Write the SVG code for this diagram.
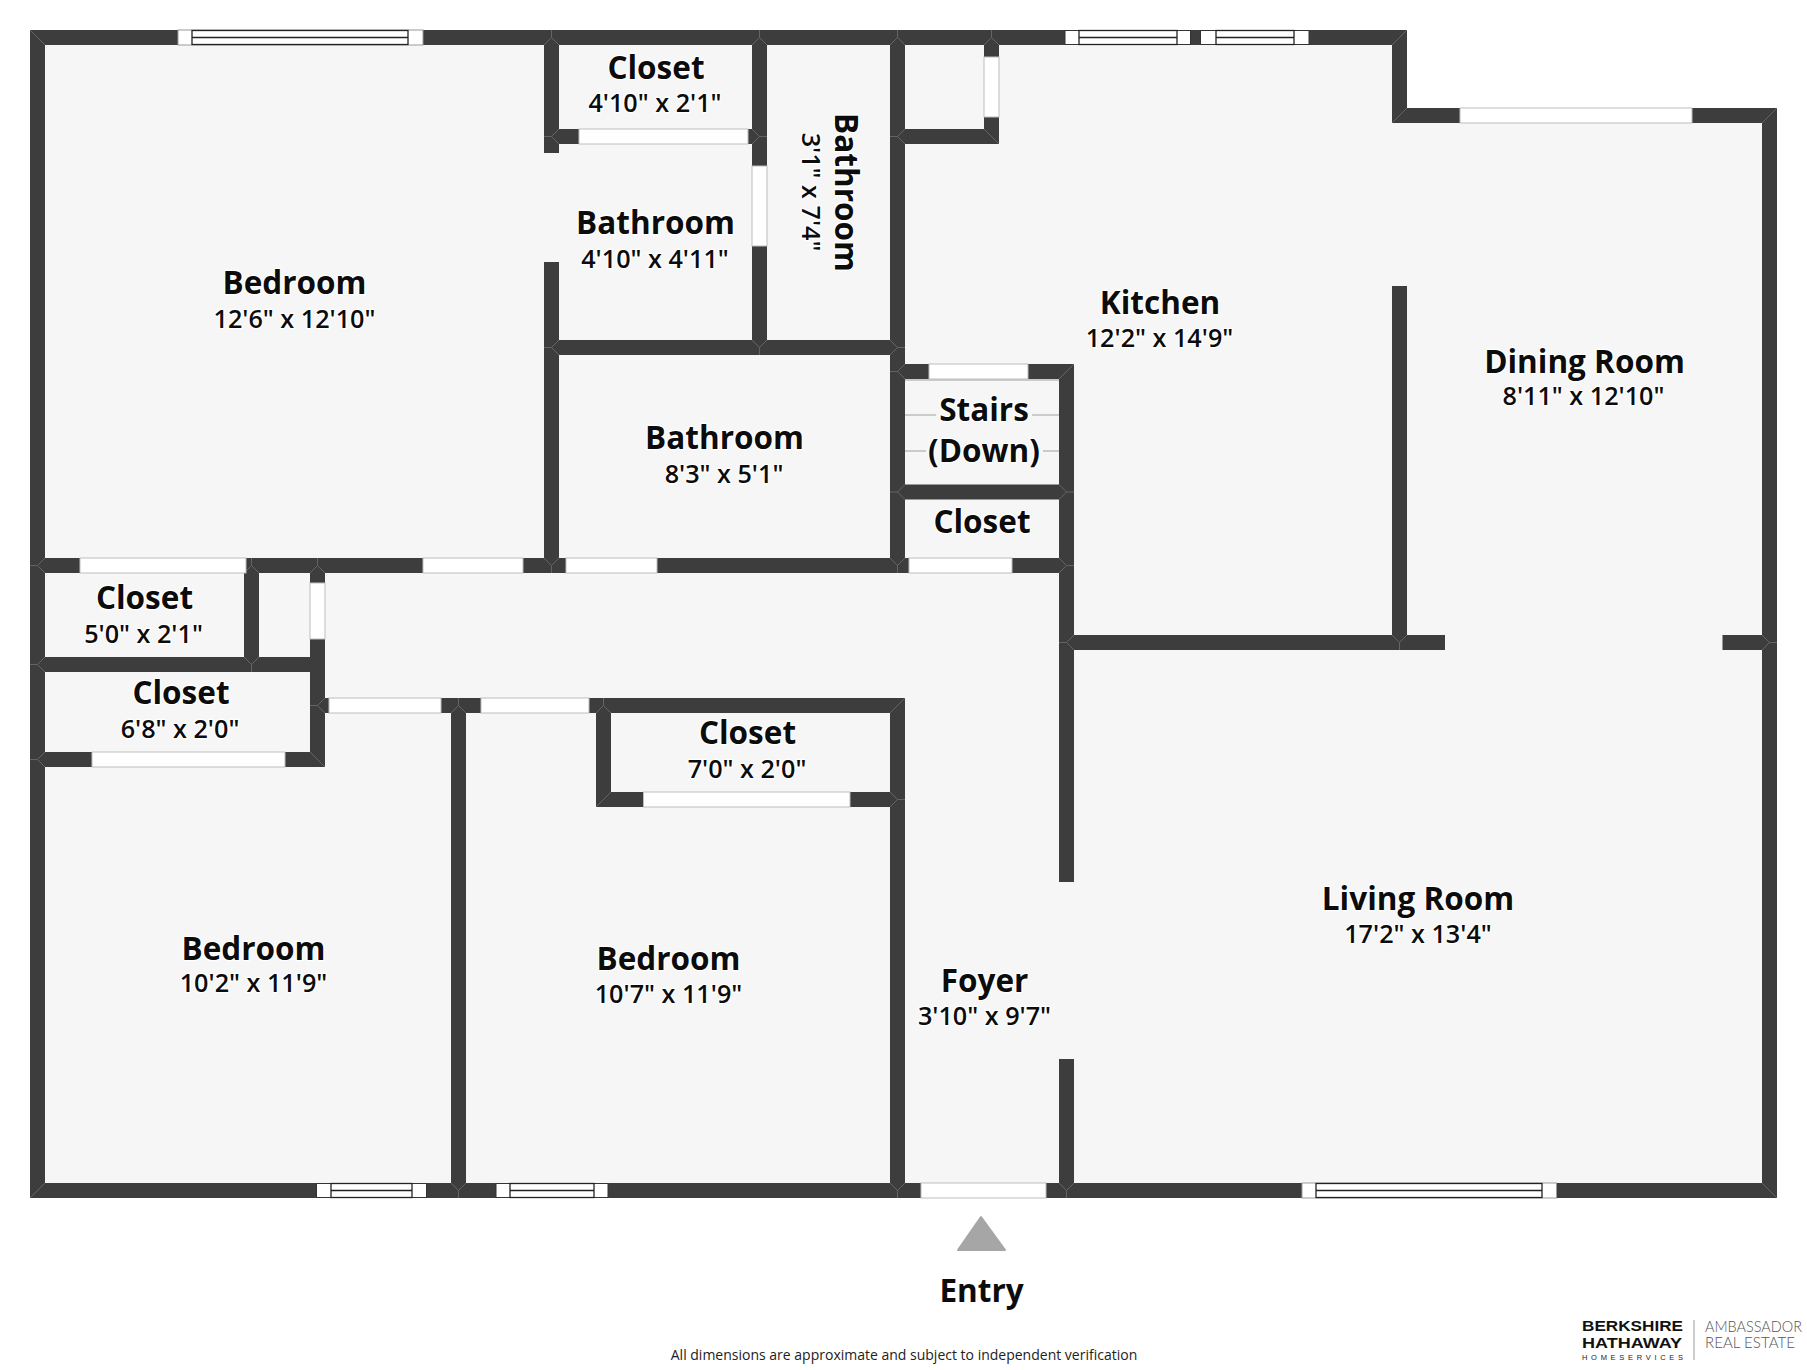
<svg xmlns="http://www.w3.org/2000/svg" width="1807" height="1370" viewBox="0 0 1807 1370">
<style>
.w{fill:#3d3d3d}
.d{fill:#fff;stroke:#bdbdbd;stroke-width:1}
.we{fill:#fff;stroke:#9a9a9a;stroke-width:1}
.wk{fill:#fff;stroke:#333;stroke-width:1}
.wi{fill:#fff;stroke:#222;stroke-width:1.3}
.m{fill:none;stroke:#6e6e6e;stroke-width:.8}
.s{stroke:#bdbdbd;stroke-width:1.4;fill:none}
text{font-family:"Open Sans","Noto Sans","Liberation Sans",sans-serif;fill:#0c0c0c;text-anchor:middle;paint-order:stroke;stroke:#fff;stroke-width:2.5;stroke-linejoin:round}
.n{font-size:31.5px;font-weight:700}
.a{font-size:25.2px;font-weight:600}
.f{font-size:14px;font-weight:400;fill:#222;stroke:none}
.b{font-family:"Liberation Sans",Arial,sans-serif;font-weight:700;font-size:15.5px;text-anchor:start;stroke:none;fill:#111}
.h{font-family:"Liberation Sans",Arial,sans-serif;font-weight:400;font-size:7.5px;text-anchor:start;stroke:none;fill:#222}
.l{font-family:"Lato","Liberation Sans",sans-serif;font-weight:300;font-size:15px;text-anchor:start;stroke:none;fill:#555}
</style>
<defs>
<path id="t" class="m" d="M-7.5-7.5L0 0L7.5-7.5M0 0V7.5"/>
</defs>
<rect width="1807" height="1370" fill="#fff"/>
<g id="floor">
<path fill="#f6f6f6" d="M30 30H1407V108H1777V1198H30Z"/>
</g>
<g id="walls" class="w">
<rect x="30" y="30" width="1377" height="15"/>
<rect x="1392" y="108" width="385" height="15"/>
<rect x="544" y="129" width="223" height="15"/>
<rect x="905" y="129" width="94" height="15"/>
<rect x="544" y="340" width="361" height="15"/>
<rect x="890" y="364" width="184" height="15"/>
<rect x="890" y="484.500" width="184" height="15"/>
<rect x="30" y="558" width="1044" height="15"/>
<rect x="1059" y="635" width="386" height="15"/>
<rect x="1722.500" y="635" width="54.500" height="15"/>
<rect x="30" y="657" width="295" height="15"/>
<rect x="30" y="752" width="295" height="15"/>
<rect x="310" y="698" width="595" height="15"/>
<rect x="596" y="792" width="309" height="15"/>
<rect x="30" y="1183" width="1747" height="15"/>
<rect x="30" y="30" width="15" height="1168"/>
<rect x="1762" y="108" width="15" height="1090"/>
<rect x="544" y="30" width="15" height="123"/>
<rect x="544" y="262" width="15" height="311"/>
<rect x="752" y="30" width="15" height="325"/>
<rect x="890" y="30" width="15" height="543"/>
<rect x="890" y="698" width="15" height="500"/>
<rect x="984" y="30" width="15" height="114"/>
<rect x="1392" y="30" width="15" height="93"/>
<rect x="1392" y="286" width="15" height="364"/>
<rect x="1059" y="364" width="15" height="518"/>
<rect x="1059" y="1059" width="15" height="139"/>
<rect x="244" y="558" width="15" height="114"/>
<rect x="310" y="558" width="15" height="209"/>
<rect x="451" y="698" width="15" height="500"/>
<rect x="596" y="698" width="15" height="109"/>
</g>
<g id="joints">
<path class="m" d="M30 30L45 45M1407 30L1392 45M1392 123L1407 108M1777 108L1762 123M1777 1198L1762 1183M30 1198L45 1183M1074 364L1059 379M325 767L310 752M905 698L890 713M596 807L611 792M999 144L984 129"/>
<use href="#t" x="458.500" y="1190.500"/>
<use href="#t" x="897.500" y="1190.500"/>
<use href="#t" x="1066.500" y="1190.500"/>
<use href="#t" x="551.500" y="565.500"/>
<use href="#t" x="897.500" y="565.500"/>
<use href="#t" x="759.500" y="347.500"/>
<use href="#t" x="1399.500" y="642.500"/>
<use href="#t" x="251.500" y="664.500"/>
<use href="#t" transform="translate(551.500 37.500) rotate(180)"/>
<use href="#t" transform="translate(759.500 37.500) rotate(180)"/>
<use href="#t" transform="translate(897.500 37.500) rotate(180)"/>
<use href="#t" transform="translate(991.500 37.500) rotate(180)"/>
<use href="#t" transform="translate(251.500 565.500) rotate(180)"/>
<use href="#t" transform="translate(317.500 565.500) rotate(180)"/>
<use href="#t" transform="translate(458.500 705.500) rotate(180)"/>
<use href="#t" transform="translate(603.500 705.500) rotate(180)"/>
<use href="#t" transform="translate(37.500 565.500) rotate(90)"/>
<use href="#t" transform="translate(37.500 664.500) rotate(90)"/>
<use href="#t" transform="translate(37.500 759.500) rotate(90)"/>
<use href="#t" transform="translate(551.500 136.500) rotate(90)"/>
<use href="#t" transform="translate(551.500 347.500) rotate(90)"/>
<use href="#t" transform="translate(897.500 136.500) rotate(90)"/>
<use href="#t" transform="translate(897.500 371.500) rotate(90)"/>
<use href="#t" transform="translate(897.500 492) rotate(90)"/>
<use href="#t" transform="translate(1066.500 642.500) rotate(90)"/>
<use href="#t" transform="translate(317.500 705.500) rotate(90)"/>
<use href="#t" transform="translate(1066.500 565.500) rotate(270)"/>
<use href="#t" transform="translate(1066.500 492) rotate(270)"/>
<use href="#t" transform="translate(897.500 347.500) rotate(270)"/>
<use href="#t" transform="translate(897.500 799.500) rotate(270)"/>
<use href="#t" transform="translate(1769.500 642.500) rotate(270)"/>
<use href="#t" transform="translate(759.500 136.500) rotate(270)"/>
</g>
<g id="doors" class="d">
<rect x="80" y="558" width="166" height="15"/>
<rect x="423" y="558" width="100" height="15"/>
<rect x="566" y="558" width="91" height="15"/>
<rect x="909" y="558" width="103" height="15"/>
<rect x="929" y="364" width="99" height="15"/>
<rect x="1460" y="108" width="232" height="15"/>
<rect x="579" y="129" width="169" height="15"/>
<rect x="329" y="698" width="112" height="15"/>
<rect x="481" y="698" width="108" height="15"/>
<rect x="92" y="752" width="193" height="15"/>
<rect x="643.500" y="792" width="206.500" height="15"/>
<rect x="921" y="1183" width="125" height="15"/>
<rect x="752" y="166" width="15" height="80"/>
<rect x="984" y="57" width="15" height="60"/>
<rect x="310" y="583" width="15" height="56"/>
</g>
<g id="windows">
<rect class="we" x="178" y="30" width="245" height="15"/>
<rect class="wi" x="192" y="30.500" width="216" height="14"/><path class="wi" d="M192 37.500H408"/>
<rect class="wk" x="1065" y="30.500" width="125.500" height="14"/>
<rect class="wi" x="1079" y="30.500" width="98" height="14"/><path class="wi" d="M1079 37.500H1177"/>
<rect class="wk" x="1200.500" y="30.500" width="108.500" height="14"/>
<rect class="wi" x="1216" y="30.500" width="78" height="14"/><path class="wi" d="M1216 37.500H1294"/>
<rect class="wk" x="316.500" y="1183.500" width="110" height="14"/>
<rect class="wi" x="331" y="1183.500" width="81" height="14"/><path class="wi" d="M331 1190.500H412"/>
<rect class="wk" x="496" y="1183.500" width="112" height="14"/>
<rect class="wi" x="510" y="1183.500" width="84" height="14"/><path class="wi" d="M510 1190.500H594"/>
<rect class="we" x="1302" y="1183" width="254.500" height="15"/>
<rect class="wi" x="1316" y="1183.500" width="226" height="14"/><path class="wi" d="M1316 1190.500H1542"/>
</g>
<g id="stairs">
<path class="s" d="M905 380H1059M905 415H936M1032 415H1059M905 451H926M1043 451H1059"/>
</g>
<g id="entry-arrow">
<path fill="#a6a6a6" stroke="#a6a6a6" stroke-width="2" stroke-linejoin="round" d="M981 1217L1005 1250H958Z"/>
</g>
<g id="labels">
<text class="n" x="294.500" y="294">Bedroom</text><text class="a" x="294.500" y="328">12'6" x 12'10"</text>
<text class="n" x="656" y="79">Closet</text><text class="a" x="655" y="112">4'10" x 2'1"</text>
<text class="n" x="655.500" y="234">Bathroom</text><text class="a" x="655" y="268">4'10" x 4'11"</text>
<text class="n" transform="translate(835 192.500) rotate(90)">Bathroom</text><text class="a" transform="translate(801.500 192) rotate(90)">3'1" x 7'4"</text>
<text class="n" x="724.500" y="449">Bathroom</text><text class="a" x="724" y="483">8'3" x 5'1"</text>
<text class="n" x="984" y="421">Stairs</text><text class="n" x="984" y="462">(Down)</text>
<text class="n" x="982" y="533">Closet</text>
<text class="n" x="1160" y="313.500">Kitchen</text><text class="a" x="1159.500" y="347">12'2" x 14'9"</text>
<text class="n" x="1584.500" y="373">Dining Room</text><text class="a" x="1583.500" y="405">8'11" x 12'10"</text>
<text class="n" x="144.500" y="609">Closet</text><text class="a" x="143.500" y="642.500">5'0" x 2'1"</text>
<text class="n" x="181" y="704">Closet</text><text class="a" x="180" y="738">6'8" x 2'0"</text>
<text class="n" x="747.500" y="744">Closet</text><text class="a" x="747" y="778">7'0" x 2'0"</text>
<text class="n" x="253.500" y="960">Bedroom</text><text class="a" x="253.500" y="992">10'2" x 11'9"</text>
<text class="n" x="668.500" y="970">Bedroom</text><text class="a" x="668.500" y="1003">10'7" x 11'9"</text>
<text class="n" x="984.500" y="992">Foyer</text><text class="a" x="984.500" y="1025">3'10" x 9'7"</text>
<text class="n" x="1418" y="910">Living Room</text><text class="a" x="1418" y="943">17'2" x 13'4"</text>
<text class="n" x="981.500" y="1302" style="stroke:none">Entry</text>
<text class="f" x="904" y="1360">All dimensions are approximate and subject to independent verification</text>
</g>
<g id="logo">
<text class="b" x="1582" y="1331" textLength="101" lengthAdjust="spacingAndGlyphs">BERKSHIRE</text>
<text class="b" x="1582" y="1348" textLength="100" lengthAdjust="spacingAndGlyphs">HATHAWAY</text>
<text class="h" x="1582" y="1360" textLength="101">HOMESERVICES</text>
<rect x="1693.500" y="1320" width="1" height="40" fill="#999"/>
<text class="l" x="1705" y="1332" textLength="97" lengthAdjust="spacingAndGlyphs">AMBASSADOR</text>
<text class="l" x="1705" y="1348" textLength="90" lengthAdjust="spacingAndGlyphs">REAL ESTATE</text>
</g>
</svg>
